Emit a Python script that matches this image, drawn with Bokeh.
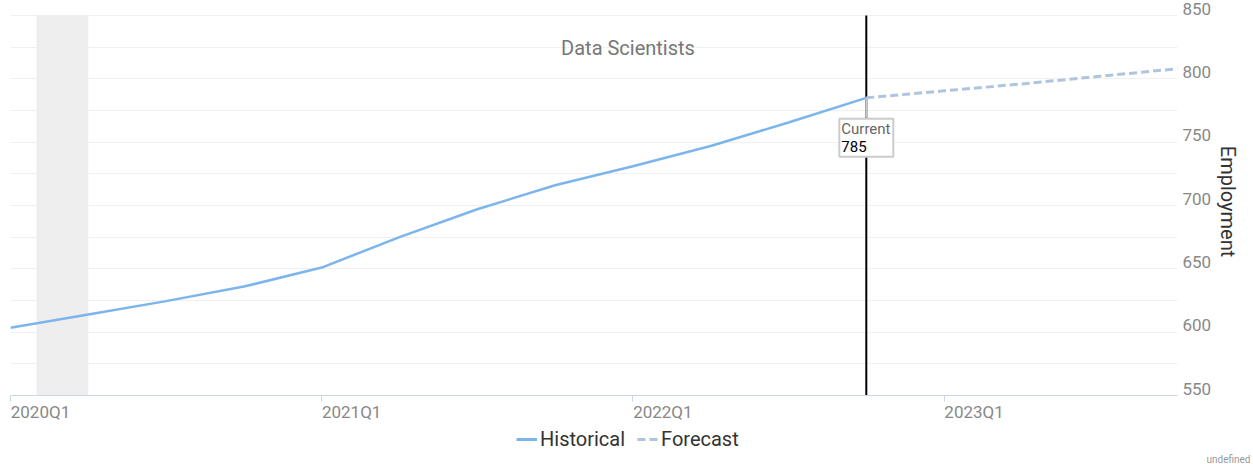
from bokeh.plotting import figure
from bokeh.layouts import column
from bokeh.models import (Range1d, FixedTicker, BoxAnnotation, Label, Title,
                          Legend, LegendItem, ColumnDataSource)
from bokeh.embed import file_html
from bokeh.resources import INLINE

# ---------------- data ----------------
QUARTERS = ["2020Q1", "2020Q2", "2020Q3", "2020Q4",
            "2021Q1", "2021Q2", "2021Q3", "2021Q4",
            "2022Q1", "2022Q2", "2022Q3", "2022Q4",
            "2023Q1", "2023Q2", "2023Q3", "2023Q4"]
HIST_QUARTERS = ["2020Q1", "2020Q2", "2020Q3", "2020Q4",
                 "2021Q1", "2021Q2", "2021Q3", "2021Q4",
                 "2022Q1", "2022Q2", "2022Q3", "2022Q4"]
HIST_VALUES = [603.5, 614, 624.5, 636, 651, 675, 697, 716, 731, 747, 765.5, 785]
FORECAST_QUARTERS = ["2022Q4", "2023Q1", "2023Q2", "2023Q3", "2023Q4"]
FORECAST_VALUES = [785, 790.5, 796, 802, 808]
X_TICK_LABELS = ["2020Q1", "2021Q1", "2022Q1", "2023Q1"]
Y_TICKS = [550, 600, 650, 700, 750, 800, 850]
Y_GRID = [550, 575, 600, 625, 650, 675, 700, 725, 750, 775, 800, 825, 850]
RECESSION = ("2020-02", "2020-04")
CURRENT_QUARTER = "2022Q4"
CURRENT_VALUE = 785
TITLE = "Data Scientists"
Y_LABEL = "Employment"
SERIES_NAMES = ["Historical", "Forecast"]
CREDITS = "undefined"

FONT = "Roboto"
HIST_COLOR = "#7cb5ec"
FC_COLOR = "#b0c4de"
FC_DASH = "8 4"


def qidx(q):
    return QUARTERS.index(q)


def month_idx(ym):
    y, m = ym.split("-")
    return (int(y) - 2020) * 4 + (int(m) - 1) / 3.0


# ---------------- layout constants ----------------
W = 1253
H_MAIN, H_LEG = 424, 40
PLOT_TOP_PX, PLOT_BOTTOM_PX = 15, 395          # where 850 / 550 sit
B_LEFT, B_RIGHT = 10, 76
B_TOP = 7                                        # frame starts a bit above 850
B_BOTTOM = H_MAIN - PLOT_BOTTOM_PX
Y_MIN, Y_MAX = Y_TICKS[0], Y_TICKS[-1]
X_MIN, X_MAX = 0, len(QUARTERS) - 1
YPP = (Y_MAX - Y_MIN) / (PLOT_BOTTOM_PX - PLOT_TOP_PX)   # data units per pixel
Y_TOP = Y_MAX + (PLOT_TOP_PX - B_TOP) * YPP
XPP = (X_MAX - X_MIN) / (W - B_LEFT - B_RIGHT)
Y_LABEL_SHIFT = 7 * YPP       # y labels sit above their grid line
X_LABEL_SHIFT = 30 * XPP      # x labels start at their tick

p = figure(width=W, height=H_MAIN, output_backend="svg", toolbar_location=None,
           title=None, x_range=Range1d(X_MIN, X_MAX), y_range=Range1d(Y_MIN, Y_TOP),
           y_axis_location="right",
           min_border_left=B_LEFT, min_border_top=B_TOP,
           min_border_right=B_RIGHT, min_border_bottom=B_BOTTOM)
p.outline_line_color = None
p.background_fill_color = "white"
p.border_fill_color = "white"

# grid
p.xgrid.visible = False
p.ygrid.ticker = FixedTicker(ticks=Y_GRID)
p.ygrid.grid_line_color = "#f0f0f0"
p.ygrid.grid_line_width = 1

# x axis: minor ticks mark the quarters, labels start at each tick
xa = p.xaxis[0]
x_tick_pos = [qidx(q) for q in X_TICK_LABELS]
x_label_pos = [t + X_LABEL_SHIFT for t in x_tick_pos]
xa.ticker = FixedTicker(ticks=x_label_pos, minor_ticks=x_tick_pos)
xa.major_label_overrides = {pos: lab for pos, lab in zip(x_label_pos, X_TICK_LABELS)}
xa.axis_line_color = "#ccd6eb"
xa.major_tick_line_color = None
xa.major_tick_in = 0
xa.major_tick_out = 6
xa.minor_tick_line_color = "#ccd6eb"
xa.minor_tick_in = 0
xa.minor_tick_out = 6
xa.major_label_standoff = 0
xa.major_label_text_font = FONT
xa.major_label_text_font_size = "17px"
xa.major_label_text_color = "#888888"

# y axis (right)
ya = p.yaxis[0]
y_label_pos = [v + Y_LABEL_SHIFT for v in Y_TICKS]
ya.ticker = FixedTicker(ticks=y_label_pos)
ya.major_label_overrides = {pos: str(v) for pos, v in zip(y_label_pos, Y_TICKS)}
ya.axis_line_color = None
ya.major_tick_line_color = None
ya.minor_tick_line_color = None
ya.major_tick_out = 0
ya.major_tick_in = 0
ya.major_label_standoff = 5
ya.major_label_text_font = FONT
ya.major_label_text_font_size = "17px"
ya.major_label_text_color = "#888888"
ya.axis_label = Y_LABEL
ya.axis_label_text_font = FONT
ya.axis_label_text_font_size = "20px"
ya.axis_label_text_font_style = "normal"
ya.axis_label_text_color = "#333333"
ya.axis_label_standoff = 2

# recession band
band = BoxAnnotation(left=month_idx(RECESSION[0]), right=month_idx(RECESSION[1]),
                     bottom=Y_MIN, top=Y_MAX,
                     fill_color="#eeeeee", fill_alpha=1.0, line_color=None,
                     level="underlay")
p.add_layout(band)

# current line (drawn first so the tooltip sits above it)
cur_x = qidx(CURRENT_QUARTER)
p.segment(x0=[cur_x], y0=[Y_MIN], x1=[cur_x], y1=[Y_MAX],
          line_color="black", line_width=2)

hist_src = ColumnDataSource(dict(x=[qidx(q) for q in HIST_QUARTERS], y=HIST_VALUES))
fc_src = ColumnDataSource(dict(x=[qidx(q) for q in FORECAST_QUARTERS], y=FORECAST_VALUES))

p.line("x", "y", source=hist_src, line_color=HIST_COLOR, line_width=2.5)
p.line("x", "y", source=fc_src, line_color=FC_COLOR, line_width=3, line_dash=FC_DASH)

# tooltip connector + box
p.segment(x0=[cur_x], y0=[CURRENT_VALUE], x1=[cur_x], y1=[CURRENT_VALUE - 20 * YPP],
          line_color="#cccccc", line_width=2)
p.rect(x=[cur_x], y=[CURRENT_VALUE - 40 * YPP], width=54, height=38,
       width_units="screen", height_units="screen",
       fill_color="white", line_color="#cccccc", line_width=2)

p.add_layout(Label(x=cur_x, y=CURRENT_VALUE, x_offset=-25, y_offset=-31,
                   text="Current", text_font=FONT, text_font_size="15px",
                   text_color="#666666", text_align="left",
                   text_baseline="alphabetic"))
p.add_layout(Label(x=cur_x, y=CURRENT_VALUE, x_offset=-25, y_offset=-49,
                   text=str(CURRENT_VALUE), text_font=FONT, text_font_size="15px",
                   text_color="#000000", text_align="left",
                   text_baseline="alphabetic"))

# title inside plot area
p.add_layout(Label(x=X_MIN, y=Y_MAX, x_offset=617.5, y_offset=-32,
                   text=TITLE, text_font=FONT, text_font_size="20px",
                   text_color="#777777", text_align="center",
                   text_baseline="alphabetic"))

# ---------------- legend strip ----------------
q = figure(width=W, height=H_LEG, output_backend="svg", toolbar_location=None,
           title=None, x_range=Range1d(0, 1), y_range=Range1d(0, 1),
           x_axis_location=None, y_axis_location=None,
           min_border_left=B_LEFT, min_border_right=B_RIGHT,
           min_border_top=0, min_border_bottom=0)
q.outline_line_color = None
q.xgrid.visible = False
q.ygrid.visible = False
q.background_fill_color = "white"
q.border_fill_color = "white"

# legend proxies (same series, outside this strip's visible range)
lh = q.line("x", "y", source=hist_src, line_color=HIST_COLOR, line_width=3)
lf = q.line("x", "y", source=fc_src, line_color=FC_COLOR, line_width=3, line_dash=FC_DASH)

legend = Legend(items=[LegendItem(label=SERIES_NAMES[0], renderers=[lh]),
                       LegendItem(label=SERIES_NAMES[1], renderers=[lf])],
                location=(506, 0), orientation="horizontal",
                padding=0, margin=0, spacing=12, label_standoff=3,
                glyph_width=21, glyph_height=20, label_height=20,
                label_text_font=FONT, label_text_font_size="20px",
                label_text_color="#333333",
                border_line_color=None, background_fill_alpha=0)
q.add_layout(legend)

q.add_layout(Title(text=CREDITS, align="right", offset=-73, standoff=0,
                   text_font=FONT, text_font_size="10px", text_font_style="normal",
                   text_color="#999999"), "below")

layout = column(p, q, spacing=0)
open("out.html", "w").write(file_html(layout, INLINE))
